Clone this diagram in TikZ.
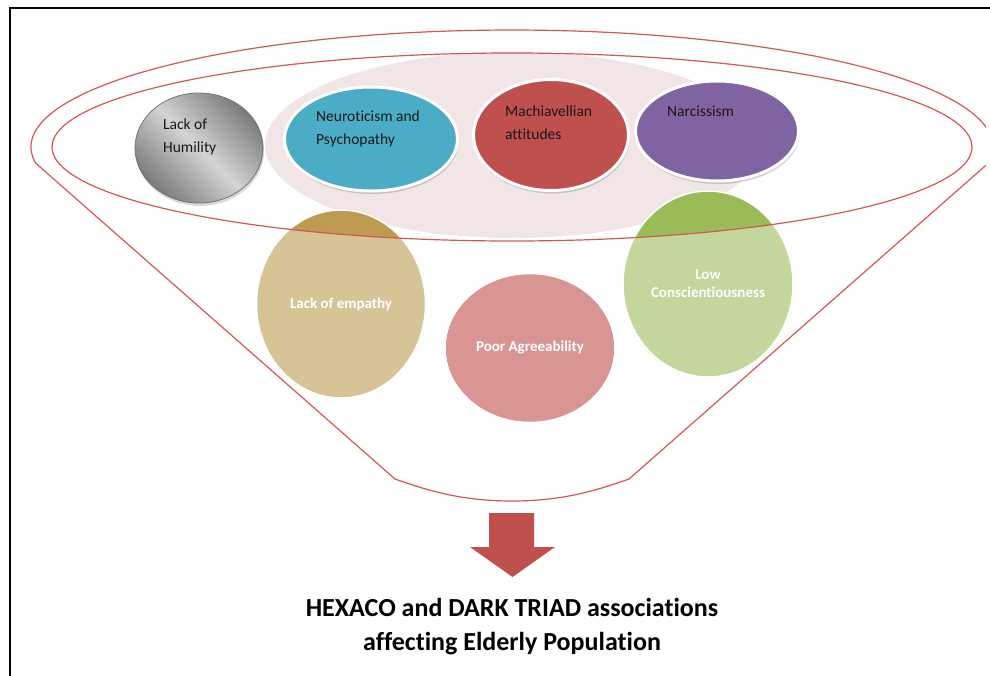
\documentclass[tikz,border=0pt]{standalone}
\usepackage{fontspec}
\setmainfont{Carlito}[Ligatures=NoCommon]
\usetikzlibrary{shapes.geometric,shadows}
\definecolor{funred}{RGB}{212,86,86}
\definecolor{pinkbg}{RGB}{242,229,229}
\definecolor{cTeal}{RGB}{75,172,198}
\definecolor{cRed}{RGB}{192,80,77}
\definecolor{cPurple}{RGB}{128,100,162}
\definecolor{cTanL}{RGB}{214,195,150}
\definecolor{cTanD}{RGB}{190,155,80}
\definecolor{cRose}{RGB}{217,148,148}
\definecolor{cGreenL}{RGB}{195,214,155}
\definecolor{cGreenD}{RGB}{155,187,89}
\definecolor{cArrow}{RGB}{192,80,77}
\tikzset{
  topov/.style={ellipse, draw=white, line width=3pt, inner sep=0pt,
    drop shadow={opacity=0.35, shadow xshift=1pt, shadow yshift=-3pt}},
  toplbl/.style={anchor=west, align=left, inner sep=0pt,
    font=\fontsize{15.5}{23}\selectfont, text=black!90},
  lowc/.style={ellipse, inner sep=0pt},
  lowlbl/.style={align=center, inner sep=0pt, text=white,
    font=\bfseries\fontsize{15}{18}\selectfont},
  redline/.style={draw=funred, line width=1.2pt}
}
\begin{document}
\begin{tikzpicture}[x=1pt,y=-1pt]
\useasboundingbox (0,0) rectangle (990,675);
% frame
\draw[line width=2pt] (10,676) -- (10,8) -- (991,8);
% pink background
\fill[pinkbg] (513,145) ellipse [x radius=248, y radius=93];
% top row
\node[ellipse, inner sep=0pt, minimum width=128pt, minimum height=110pt,
  draw=black!55, line width=0.8pt, top color=black!52, bottom color=black!52,
  middle color=black!17, shading angle=-45,
  drop shadow={opacity=0.3, shadow xshift=1pt, shadow yshift=-3pt}] (humil) at (199,148) {};
\node[topov, fill=cTeal, minimum width=173pt, minimum height=104pt] (neuro) at (371,139) {};
\node[topov, fill=cRed, minimum width=155pt, minimum height=111pt] (mach) at (551,135) {};
\node[topov, fill=cPurple, minimum width=163pt, minimum height=100pt] (narc) at (717,131) {};
\node[toplbl] (humilt) at (163,136.5) {Lack of\\Humility};
\node[toplbl] (neurot) at (316,128.5) {Neuroticism and\\Psychopathy};
\node[toplbl] (macht) at (505,123) {Machiavellian\\attitudes};
\node[toplbl] (narct) at (667,111) {Narcissism};
% lower circles
\node[lowc, fill=cTanL, minimum width=169pt, minimum height=188pt] (empathy) at (341,304) {};
\node[lowc, fill=cRose, minimum width=170pt, minimum height=149pt] (agree) at (530,348) {};
\node[lowc, fill=cGreenL, minimum width=170pt, minimum height=186pt] (consc) at (708,284) {};
\begin{scope}
  \clip (512,147) ellipse [x radius=460, y radius=94];
  \fill[cTanD] (empathy.center) ellipse [x radius=84.5, y radius=94];
  \fill[cGreenD] (consc.center) ellipse [x radius=85, y radius=93];
\end{scope}
\draw[white, line width=1.5pt] (empathy.center) ellipse [x radius=84.5, y radius=94];
\draw[white, line width=1.5pt] (agree.center) ellipse [x radius=85, y radius=74.5];
\draw[white, line width=1.5pt] (consc.center) ellipse [x radius=85, y radius=93];
\node[lowlbl] (empatht) at (empathy.center) {Lack of empathy};
\node[lowlbl] (agreet) at (agree.center) {Poor Agreeability};
\node[lowlbl] (consct) at (consc.center) {Low\\Conscientiousness};
% funnel outlines
\draw[redline] (512,147) ellipse [x radius=460, y radius=94];
\coordinate (fl) at (35.6,163.1);
\coordinate (fr) at (988.4,163.1);
\coordinate (bl) at (395,479);
\coordinate (br) at (629,479);
\coordinate (bm) at (512,501);
\begin{scope}
  \clip (0,0) rectangle (986,675);
  \draw[redline] (fl) arc[start angle=172.1, end angle=367.9, x radius=481, y radius=117]
    -- (br) .. controls (600,489) and (566,501) .. (bm)
    .. controls (458,501) and (424,489) .. (bl) -- (fl);
\end{scope}
% arrow
\fill[cArrow] (489,513) -- (534,513) -- (534,547) -- (555,547) -- (512.5,577)
  -- (470,547) -- (489,547) -- cycle;
\node[font=\bfseries\fontsize{26}{34}\selectfont, align=center, inner sep=0pt] (title) at (512,627)
  {HEXACO and DARK TRIAD associations\\affecting Elderly Population};
\end{tikzpicture}
\end{document}
